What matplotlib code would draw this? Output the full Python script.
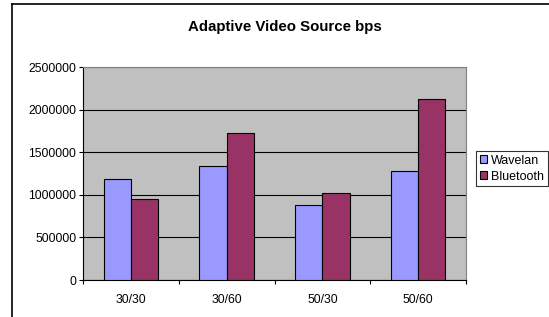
import numpy as np
import matplotlib
matplotlib.use("Agg")
import matplotlib.pyplot as plt
from matplotlib.lines import Line2D

plt.rcParams['font.family'] = ['Liberation Sans', 'DejaVu Sans']

categories = ['30/30', '30/60', '50/30', '50/60']
wavelan = [1190000, 1335000, 880000, 1280000]
bluetooth = [950000, 1725000, 1020000, 2125000]

fig = plt.figure(figsize=(5.49, 3.17), dpi=100)
ax = fig.add_axes([0.1517, 0.1167, 0.6971, 0.671])

x = np.arange(len(categories))
w = 1 / 3.5
ax.bar(x - w / 2, wavelan, w, color='#9999FF', edgecolor='black', linewidth=0.8,
       label='Wavelan', zorder=3)
ax.bar(x + w / 2, bluetooth, w, color='#993366', edgecolor='black', linewidth=0.8,
       label='Bluetooth', zorder=3)

ax.set_facecolor('#C0C0C0')
ax.set_xlim(-0.5, len(categories) - 0.5)
ax.set_ylim(0, 2500000)
ax.set_yticks(np.arange(0, 2500001, 500000))
ax.set_yticklabels([str(v) for v in range(0, 2500001, 500000)])
ax.yaxis.grid(True, color='black', linewidth=0.8, zorder=1)
ax.set_axisbelow(True)

# category labels centred, ticks at the boundaries
ax.set_xticks(x)
ax.set_xticklabels(categories)
ax.tick_params(axis='x', length=0, pad=10, labelsize=8.8)
ax.set_xticks(np.arange(-0.5, len(categories)), minor=True)
ax.tick_params(axis='x', which='minor', length=3, direction='out', width=0.8)
ax.tick_params(axis='y', length=3, direction='out', width=0.8, labelsize=8.7, pad=2)

for side in ['top', 'right']:
    ax.spines[side].set_color('#808080')
    ax.spines[side].set_linewidth(0.8)
for side in ['left', 'bottom']:
    ax.spines[side].set_color('black')
    ax.spines[side].set_linewidth(0.8)

fig.text(0.518, 0.915, 'Adaptive Video Source bps', ha='center', va='center',
         fontsize=10.8, fontweight='bold')

leg = ax.legend(loc='upper left', bbox_to_anchor=(1.026, 0.606), fontsize=9,
                frameon=True, fancybox=False, edgecolor='black',
                handlelength=0.6, handleheight=0.6, handletextpad=0.3,
                borderpad=0.3, labelspacing=0.3, borderaxespad=0)
leg.get_frame().set_linewidth(0.8)

# chart area border (top and left edges visible)
fig.add_artist(Line2D([12 / 549, 1], [1 - 4 / 317, 1 - 4 / 317],
                      transform=fig.transFigure, color='black', linewidth=1.2))
fig.add_artist(Line2D([12 / 549, 12 / 549], [0, 1 - 4 / 317],
                      transform=fig.transFigure, color='black', linewidth=1.2))

fig.savefig('out.png', dpi=100)
